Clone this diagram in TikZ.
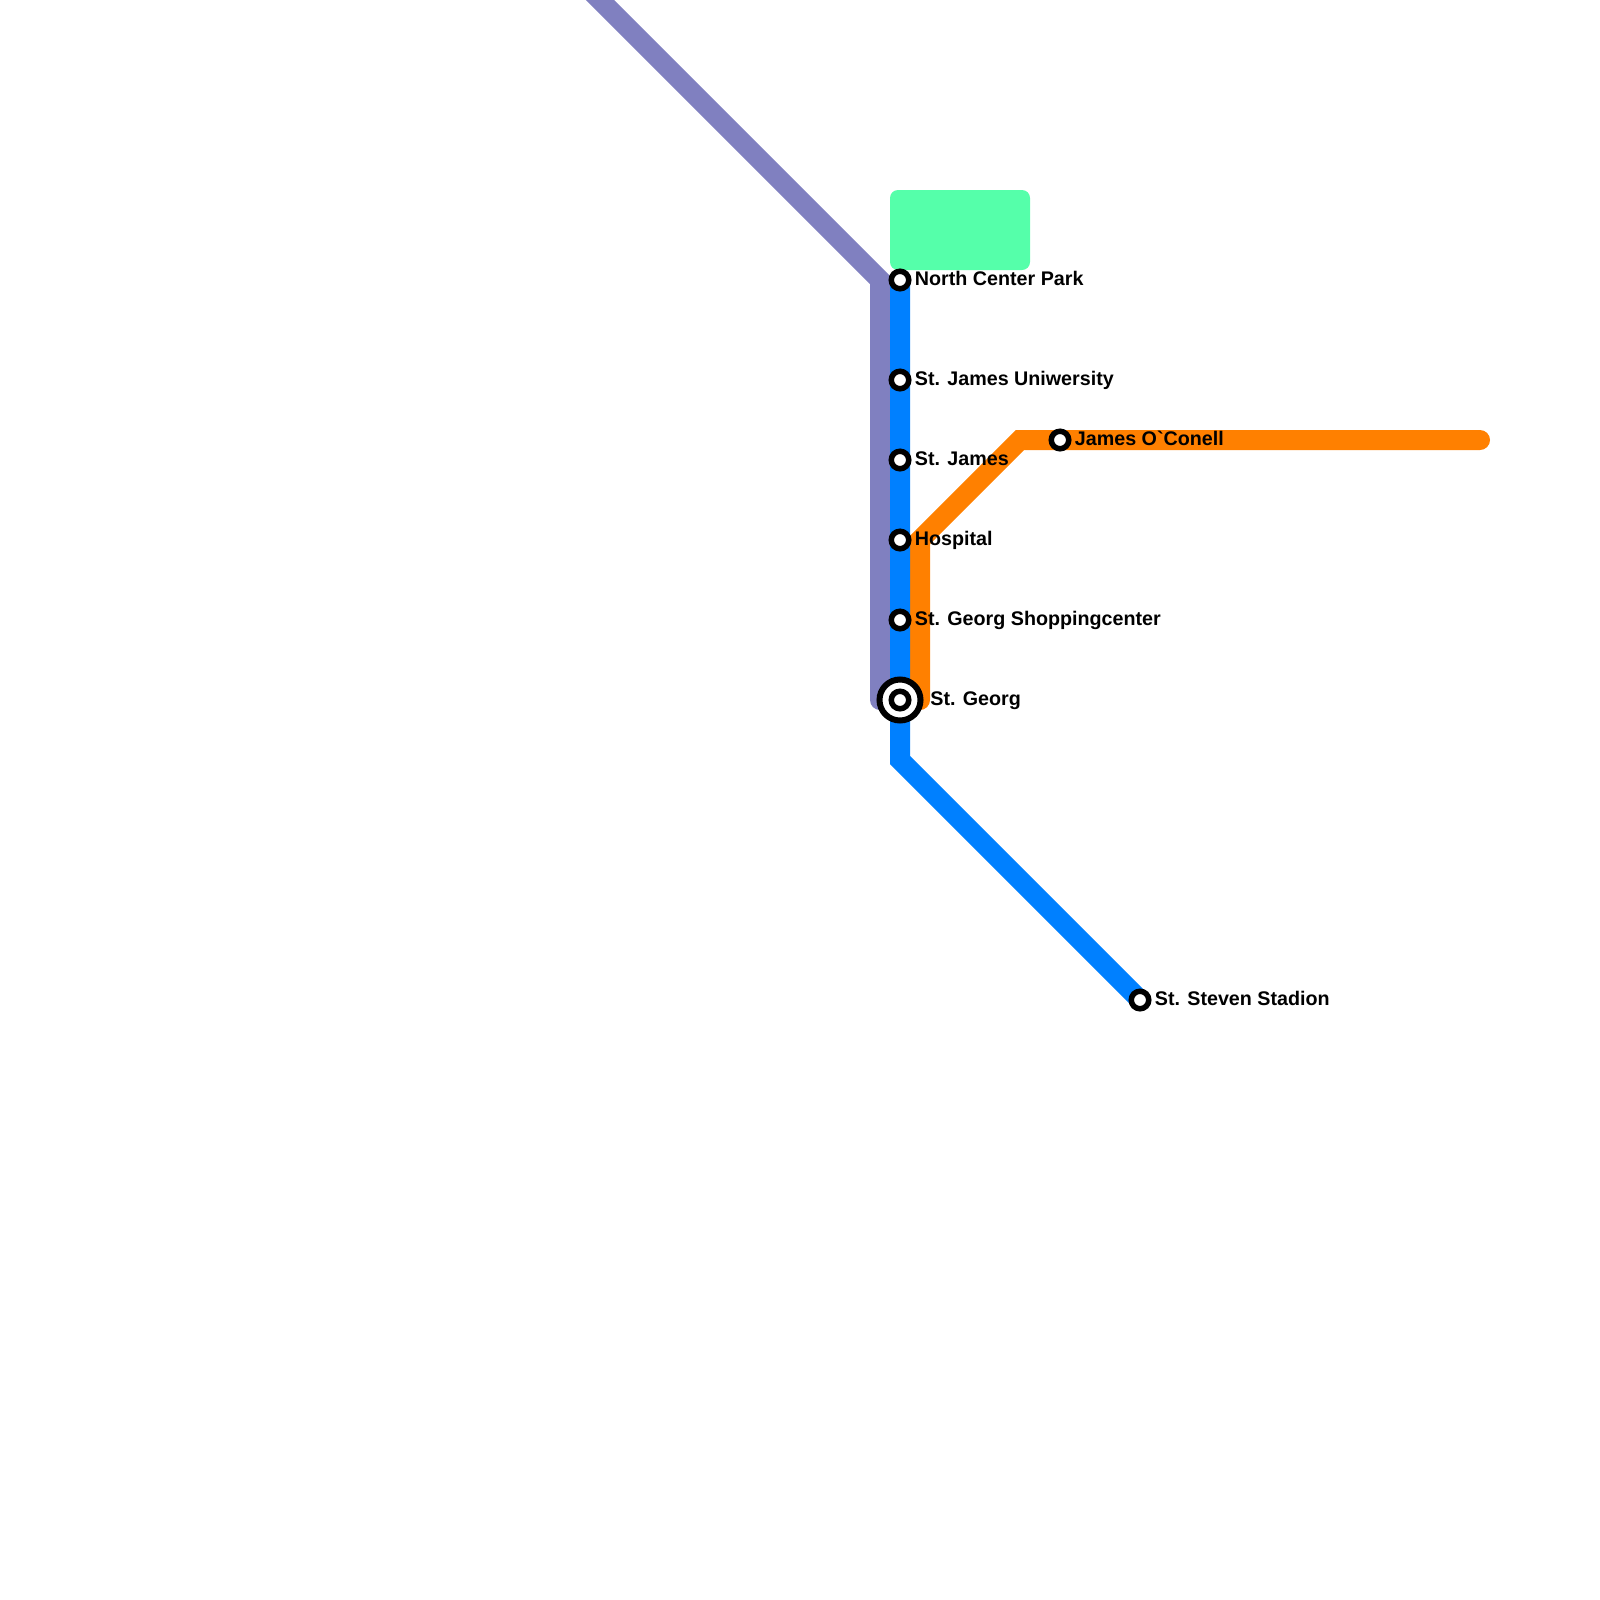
\documentclass[tikz,border=0pt]{standalone}
\usepackage{fontspec}
\setmainfont{Liberation Sans}
\usetikzlibrary{positioning}

\definecolor{viola}{HTML}{8080C0}
\definecolor{blu}{HTML}{0080FF}
\definecolor{arancio}{HTML}{FF8000}
\definecolor{verde}{HTML}{55FFAA}

\begin{document}
\begin{tikzpicture}[x=0.5pt, y=-0.5pt,
    linea/.style={line width=10pt, line cap=round, line join=miter},
    fermata/.style={circle, draw=black, fill=white, line width=2.75pt, minimum size=8.75pt, inner sep=0pt},
    scambio/.style={circle, draw=black, fill=white, line width=3pt, minimum size=20.5pt, inner sep=0pt},
    nome/.style={inner sep=0pt, font=\fontsize{9.85}{12}\selectfont\bfseries, text height=5.2pt, text depth=0pt},
    parco/.style={fill=verde, minimum width=70pt, minimum height=40pt, rounded corners=4pt, inner sep=0pt}]
	\useasboundingbox (0,0) rectangle (1600,1600);
	
	% Parco
	\node[parco] (park) at (960,230) {};
	
	% Punti delle linee
	\coordinate (ncpc) at (900,280);
	\coordinate (sjuc) at (900,380);
	\coordinate (sjc) at (900,460);
	\coordinate (hospc) at (900,540);
	\coordinate (sgsc) at (900,620);
	\coordinate (sgc) at (900,700);
	\coordinate (joc) at (1060,440);
	\coordinate (ssc) at (1140,1000);
	\coordinate (vstart) at (580,-20);
	\coordinate (vbend) at (880,280);
	\coordinate (vend) at (880,700);
	\coordinate (astart) at (920,700);
	\coordinate (abend1) at (920,540);
	\coordinate (abend2) at (1020,440);
	\coordinate (aend) at (1480,440);
	\coordinate (bbend) at (900,760);
	
	% Linea viola
	\draw[linea, viola] (vstart) -- (vbend) -- (vend);
	
	% Linea arancio
	\draw[linea, arancio] (astart) -- (abend1) -- (abend2) -- (joc) -- (aend);
	
	% Linea blu
	\draw[linea, blu] (ncpc) -- (sgc) -- (bbend) -- (ssc);
	
	% Fermate
	\node[fermata] (ncp) at (ncpc) {};
	\node[fermata] (sju) at (sjuc) {};
	\node[fermata] (sj) at (sjc) {};
	\node[fermata] (hosp) at (hospc) {};
	\node[fermata] (sgs) at (sgsc) {};
	\node[scambio] (sgring) at (sgc) {};
	\node[fermata] (sg) at (sgc) {};
	\node[fermata] (jo) at (joc) {};
	\node[fermata] (ss) at (ssc) {};
	
	% Nomi
	\node[nome, right=1.5pt of ncp] (ncpn) {North Center Park};
	\node[nome, right=1.5pt of sju] (sjun) {St. James Uniwersity};
	\node[nome, right=1.5pt of sj] (sjn) {St. James};
	\node[nome, right=1.5pt of hosp] (hospn) {Hospital};
	\node[nome, right=1.5pt of sgs] (sgsn) {St. Georg Shoppingcenter};
	\node[nome, right=3.25pt of sgring] (sgn) {St. Georg};
	\node[nome, right=1.5pt of jo] (jon) {James O\textasciigrave Conell};
	\node[nome, right=1.5pt of ss] (ssn) {St. Steven Stadion};
\end{tikzpicture}
\end{document}
